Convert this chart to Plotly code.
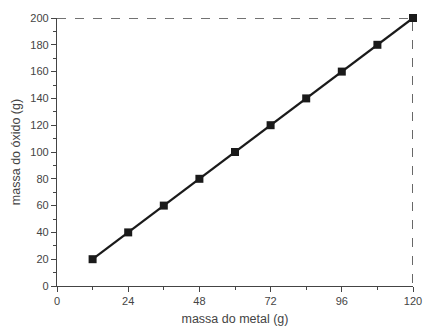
import plotly.graph_objects as go

metal = [12, 24, 36, 48, 60, 72, 84, 96, 108, 120]
oxido = [20, 40, 60, 80, 100, 120, 140, 160, 180, 200]
x_ticks = [0, 24, 48, 72, 96, 120]
y_ticks = [0, 20, 40, 60, 80, 100, 120, 140, 160, 180, 200]
ref_x = [0, 120, 120]
ref_y = [200, 200, 0]

fig = go.Figure()
fig.add_trace(go.Scatter(x=ref_x, y=ref_y, mode="lines",
                         line=dict(color="#444444", width=1.6, dash="dash"),
                         hoverinfo="skip", showlegend=False, cliponaxis=False))
fig.add_trace(go.Scatter(x=metal, y=oxido, mode="lines+markers",
                         line=dict(color="#1a1a1a", width=2.2),
                         marker=dict(symbol="square", size=8, color="#1a1a1a"),
                         showlegend=False, cliponaxis=False))

axis_common = dict(showgrid=False, zeroline=False, showline=True,
                   linecolor="#444444", linewidth=1.3, ticks="outside",
                   tickcolor="#444444", ticklen=5, tickwidth=1.3,
                   tickfont=dict(family="Liberation Sans, Arial", size=11, color="#444444"))

fig.update_xaxes(range=[0, 120], tickvals=x_ticks,
                 minor=dict(ticks="outside", dtick=12, tick0=0, ticklen=3, tickcolor="#444444", tickwidth=1.2),
                 title=dict(text="massa do metal (g)", standoff=7,
                            font=dict(family="Liberation Sans, Arial", size=12.5, color="#444444")),
                 **axis_common)
fig.update_yaxes(range=[0, 200], tickvals=y_ticks,
                 minor=dict(ticks="outside", dtick=10, tick0=0, ticklen=3, tickcolor="#444444", tickwidth=1.2),
                 title=dict(text="massa do óxido (g)", standoff=6,
                            font=dict(family="Liberation Sans, Arial", size=12.5, color="#444444")),
                 **axis_common)

fig.update_layout(width=432, height=333, margin=dict(l=57, r=10, t=18, b=43),
                  paper_bgcolor="white", plot_bgcolor="white")
fig.write_html("out.html", config={"displayModeBar": False},
               post_script="document.body.style.margin='0';")
